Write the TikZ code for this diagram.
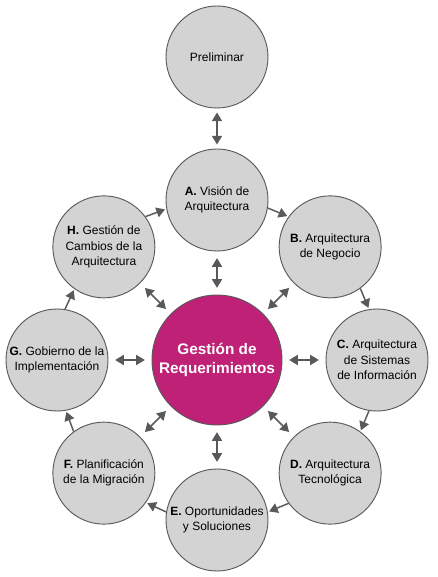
\documentclass[tikz,border=0pt]{standalone}
\usepackage{fontspec}
\setmainfont{Liberation Sans}
\usetikzlibrary{arrows.meta}

\definecolor{fondogris}{HTML}{D3D3D3}
\definecolor{bordegris}{HTML}{5A5A5A}
\definecolor{flechagris}{HTML}{595959}
\definecolor{reqmagenta}{HTML}{BF2177}

\tikzset{etapa/.style = {circle, draw=bordegris, line width=0.7pt, fill=fondogris,
                         minimum size=#1, inner sep=0pt, align=center,
                         font=\fontsize{9}{11.5}\selectfont},
         etapa/.default=76.5pt,
         flecha/.style = {draw=flechagris, line width=1.1pt, -{Triangle[length=6.5pt,width=7.5pt]}},
         flecha2/.style = {flecha, {Triangle[length=6.5pt,width=7.5pt]}-{Triangle[length=6.5pt,width=7.5pt]},
                           shorten <=5pt, shorten >=5pt}
        }

\begin{document}
\begin{tikzpicture}[x=0.75pt, y=0.75pt]
  \useasboundingbox (-217, -217) rectangle (220, 360);
  \node[etapa=97.5pt, fill=reqmagenta, text=white,
        font=\bfseries\fontsize{11.5}{14.5}\selectfont] (M) at (0, 0) {Gestión de\\Requerimientos};
  \node[etapa] (P) at (0, 303) {Preliminar};
  \foreach \n/\a/\t in {A/90/{\textbf{A.} Visión de\\Arquitectura},
                        B/45/{\textbf{B.} Arquitectura\\de Negocio},
                        C/0/{\textbf{C.} Arquitectura\\de Sistemas\\de Información},
                        D/-45/{\textbf{D.} Arquitectura\\Tecnológica},
                        E/-90/{\textbf{E.} Oportunidades\\y Soluciones},
                        F/-135/{\textbf{F.} Planificación\\de la Migración},
                        G/180/{\textbf{G.} Gobierno de la\\Implementación},
                        H/135/{\textbf{H.} Gestión de\\Cambios de la\\Arquitectura}}
      {\node[etapa] (\n) at (\a:160) {\t};};
  \draw[flecha2, shorten <=3pt, shorten >=3pt] (P) -- (A);
  \foreach \n in {A, B, C, D, E, F, G, H} {\draw[flecha2] (M) -- (\n);};
  \foreach \p/\q/\a in {A/B/90, B/C/45, C/D/0, D/E/-45, E/F/-90, F/G/-135, G/H/-180, H/A/-225}
      {\pgfmathsetmacro{\s}{\a-99.15}\pgfmathsetmacro{\e}{\a+54.15}
       \draw[flecha, shorten >=1pt] (\p.\s) -- (\q.\e);};
\end{tikzpicture}
\end{document}
